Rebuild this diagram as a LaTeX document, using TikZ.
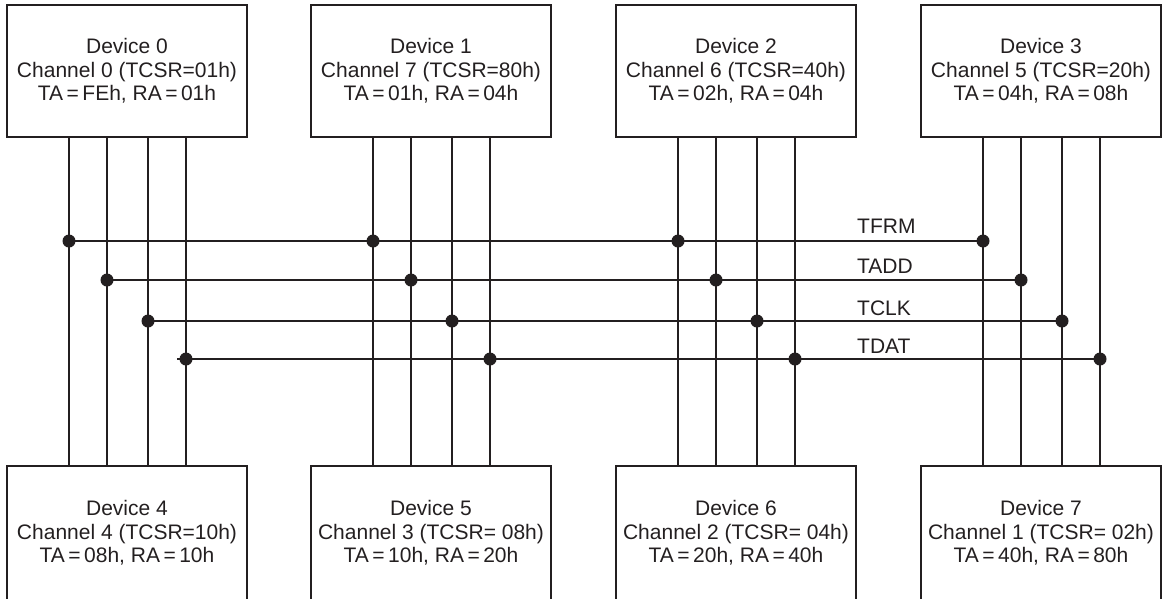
\documentclass[tikz,border=0pt]{standalone}
\usepackage{fontspec}
\setmainfont{Liberation Sans}
\definecolor{ink}{RGB}{35,31,32}
\begin{document}
\begin{tikzpicture}[x=1pt,y=-1pt,
  every path/.style={color=ink},
  dev/.style={draw=ink, line width=2.2pt, minimum width=240pt, minimum height=132pt, align=center, text=ink,
              font=\fontsize{21}{23.5}\selectfont, inner sep=0pt},
  devb/.style={dev, minimum height=134pt},
  wire/.style={draw=ink, line width=2.2pt},
  junc/.style={circle, fill=ink, inner sep=0pt, minimum size=13pt},
  lbl/.style={anchor=base west, text=ink, font=\fontsize{21}{23.5}\selectfont, inner sep=0pt}]
\useasboundingbox (0,0) rectangle (1170,598);
% top devices
\node[dev] (d0) at (127,71)  {Device 0\\Channel 0 (TCSR=01h)\\TA\,=\,FEh, RA\,=\,01h};
\node[dev] (d1) at (431,71)  {Device 1\\Channel 7 (TCSR=80h)\\TA\,=\,01h, RA\,=\,04h};
\node[dev] (d2) at (736,71)  {Device 2\\Channel 6 (TCSR=40h)\\TA\,=\,02h, RA\,=\,04h};
\node[dev] (d3) at (1041,71) {Device 3\\Channel 5 (TCSR=20h)\\TA\,=\,04h, RA\,=\,08h};
% bottom devices
\node[devb] (d4) at (127,533)  {Device 4\\Channel 4 (TCSR=10h)\\TA\,=\,08h, RA\,=\,10h};
\node[devb] (d5) at (431,533)  {Device 5\\Channel 3 (TCSR= 08h)\\TA\,=\,10h, RA\,=\,20h};
\node[devb] (d6) at (736,533)  {Device 6\\Channel 2 (TCSR= 04h)\\TA\,=\,20h, RA\,=\,40h};
\node[devb] (d7) at (1041,533) {Device 7\\Channel 1 (TCSR= 02h)\\TA\,=\,40h, RA\,=\,80h};
% vertical wires and junctions
\foreach \i/\cx in {0/127,1/431,2/736,3/1041} {
  \pgfmathtruncatemacro\bb{\i+4}
  \foreach \j/\dx/\yy in {1/-58/241,2/-20/280,3/21/321,4/59/359} {
    \coordinate (t\i\j) at ([xshift=\dx pt]d\i.south);
    \coordinate (b\i\j) at ([xshift=\dx pt]d\bb.north);
    \draw[wire] (t\i\j) -- (b\i\j);
    \node[junc] (j\i\j) at (\cx+\dx,\yy) {};
  }
}
% buses
\draw[wire] (j01.center) -- (j31.center);
\draw[wire] (j02.center) -- (j32.center);
\draw[wire] (j03.center) -- (j33.center);
\coordinate (stub) at ([xshift=-9pt]j04.center);
\draw[wire] (stub) -- (j34.center);
% bus labels
\node[lbl] (ltfrm) at (857,233) {TFRM};
\node[lbl] (ltadd) at (857,273) {TADD};
\node[lbl] (ltclk) at (857,315) {TCLK};
\node[lbl] (ltdat) at (857,353) {TDAT};
\end{tikzpicture}
\end{document}
